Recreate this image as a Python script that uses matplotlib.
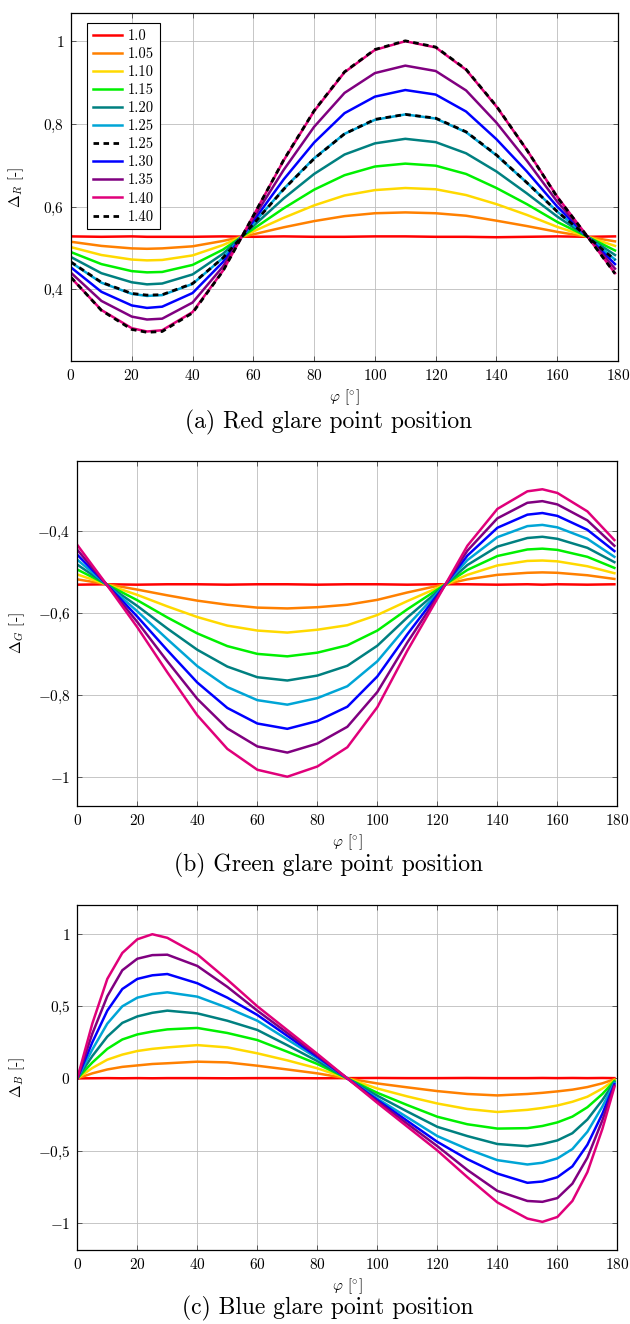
import matplotlib
matplotlib.use('Agg')
import matplotlib.pyplot as plt

plt.rcParams['font.family'] = 'serif'
plt.rcParams['font.serif'] = ['cmr10']
plt.rcParams['mathtext.fontset'] = 'cm'
plt.rcParams['axes.formatter.use_mathtext'] = True

# labels of the curves and their colours
labels = ['1.0', '1.05', '1.10', '1.15', '1.20', '1.25', '1.30', '1.35', '1.40']
colors = ['#ff0000', '#ff8000', '#ffd900', '#00f000', '#008080',
          '#00a5d6', '#0000ff', '#800080', '#e0007a']

# ---- (a) red glare point ----
phi_a = [0, 10, 20, 25, 30, 40, 50, 60, 70, 80, 90, 100, 110, 120, 130, 140, 150, 160, 170, 179]

a_100 = [0.528, 0.527, 0.528, 0.527, 0.527, 0.527, 0.528, 0.527, 0.528, 0.527, 0.527, 0.528, 0.528, 0.527, 0.527, 0.526, 0.527, 0.528, 0.527, 0.528]
a_105 = [0.515, 0.505, 0.499, 0.498, 0.499, 0.504, 0.517, 0.533, 0.550, 0.565, 0.577, 0.584, 0.586, 0.584, 0.578, 0.566, 0.553, 0.539, 0.527, 0.516]
a_110 = [0.502, 0.483, 0.472, 0.470, 0.471, 0.482, 0.507, 0.540, 0.573, 0.603, 0.627, 0.640, 0.645, 0.642, 0.628, 0.606, 0.580, 0.551, 0.527, 0.505]
a_115 = [0.490, 0.461, 0.444, 0.441, 0.442, 0.459, 0.496, 0.546, 0.596, 0.641, 0.676, 0.697, 0.704, 0.699, 0.679, 0.645, 0.606, 0.563, 0.527, 0.494]
a_120 = [0.478, 0.439, 0.417, 0.412, 0.414, 0.436, 0.486, 0.553, 0.620, 0.679, 0.726, 0.753, 0.764, 0.756, 0.729, 0.685, 0.632, 0.576, 0.527, 0.483]
a_125 = [0.465, 0.416, 0.389, 0.384, 0.386, 0.413, 0.476, 0.559, 0.643, 0.717, 0.776, 0.810, 0.823, 0.813, 0.780, 0.724, 0.658, 0.588, 0.527, 0.472]
a_130 = [0.453, 0.394, 0.361, 0.355, 0.358, 0.391, 0.466, 0.565, 0.666, 0.755, 0.826, 0.866, 0.882, 0.871, 0.830, 0.763, 0.685, 0.600, 0.527, 0.461]
a_135 = [0.440, 0.372, 0.334, 0.327, 0.329, 0.368, 0.455, 0.572, 0.689, 0.793, 0.875, 0.923, 0.941, 0.928, 0.881, 0.803, 0.711, 0.612, 0.527, 0.450]
a_140 = [0.428, 0.350, 0.306, 0.298, 0.301, 0.345, 0.445, 0.578, 0.712, 0.831, 0.925, 0.979, 1.000, 0.985, 0.931, 0.842, 0.737, 0.624, 0.527, 0.439]

# dashed (theory) curves
th_a_125 = [0.466, 0.417, 0.390, 0.386, 0.387, 0.414, 0.476, 0.558, 0.642, 0.716, 0.776, 0.811, 0.823, 0.814, 0.781, 0.725, 0.658, 0.588, 0.527, 0.471]
th_a_140 = [0.429, 0.349, 0.303, 0.296, 0.298, 0.343, 0.444, 0.578, 0.713, 0.832, 0.926, 0.980, 1.001, 0.986, 0.932, 0.843, 0.737, 0.623, 0.527, 0.438]

# ---- (b) green glare point ----
phi_b = [0, 10, 20, 30, 40, 50, 60, 70, 80, 90, 100, 110, 120, 130, 140, 150, 155, 160, 170, 179]

b_100 = [-0.531, -0.530, -0.531, -0.530, -0.530, -0.531, -0.530, -0.530, -0.531, -0.530, -0.530, -0.531, -0.530, -0.530, -0.531, -0.530, -0.531, -0.530, -0.531, -0.530]
b_105 = [-0.518, -0.530, -0.543, -0.557, -0.570, -0.580, -0.587, -0.589, -0.586, -0.580, -0.568, -0.550, -0.534, -0.518, -0.507, -0.502, -0.501, -0.502, -0.508, -0.517]
b_110 = [-0.506, -0.531, -0.556, -0.584, -0.610, -0.631, -0.643, -0.648, -0.641, -0.630, -0.605, -0.571, -0.539, -0.507, -0.484, -0.473, -0.472, -0.474, -0.486, -0.503]
b_115 = [-0.494, -0.531, -0.569, -0.611, -0.650, -0.681, -0.700, -0.706, -0.697, -0.679, -0.643, -0.591, -0.543, -0.495, -0.461, -0.445, -0.443, -0.446, -0.463, -0.490]
b_120 = [-0.482, -0.532, -0.583, -0.638, -0.690, -0.731, -0.757, -0.765, -0.753, -0.729, -0.680, -0.611, -0.548, -0.483, -0.438, -0.417, -0.414, -0.419, -0.441, -0.476]
b_125 = [-0.470, -0.532, -0.596, -0.664, -0.730, -0.781, -0.813, -0.824, -0.808, -0.779, -0.718, -0.631, -0.552, -0.471, -0.415, -0.388, -0.385, -0.391, -0.419, -0.463]
b_130 = [-0.458, -0.532, -0.609, -0.691, -0.770, -0.832, -0.870, -0.883, -0.864, -0.829, -0.755, -0.652, -0.556, -0.460, -0.392, -0.360, -0.356, -0.363, -0.397, -0.449]
b_135 = [-0.446, -0.533, -0.622, -0.718, -0.810, -0.882, -0.926, -0.941, -0.919, -0.878, -0.793, -0.672, -0.561, -0.448, -0.369, -0.331, -0.327, -0.335, -0.374, -0.436]
b_140 = [-0.434, -0.533, -0.635, -0.745, -0.850, -0.932, -0.983, -1.000, -0.975, -0.928, -0.830, -0.692, -0.565, -0.436, -0.346, -0.303, -0.298, -0.307, -0.352, -0.422]

# ---- (c) blue glare point ----
phi_c = [0, 5, 10, 15, 20, 25, 30, 40, 50, 60, 70, 80, 90, 100, 110, 120, 130, 140, 150, 155, 160, 165, 170, 175, 179]

c_100 = [0.0, 0.001, 0.002, 0.001, 0.002, 0.001, 0.002, 0.002, 0.001, 0.002, 0.002, 0.001, 0.002, 0.003, 0.002, 0.002, 0.003, 0.002, 0.002, 0.003, 0.002, 0.003, 0.002, 0.003, 0.002]
c_105 = [0, 0.035, 0.062, 0.08, 0.09, 0.10, 0.105, 0.116, 0.111, 0.088, 0.062, 0.035, 0.0, -0.035, -0.062, -0.088, -0.108, -0.118, -0.108, -0.100, -0.090, -0.078, -0.060, -0.034, -0.006]
c_110 = [0, 0.072, 0.13, 0.165, 0.19, 0.205, 0.215, 0.231, 0.215, 0.174, 0.125, 0.07, 0.0, -0.07, -0.125, -0.174, -0.212, -0.233, -0.218, -0.205, -0.188, -0.162, -0.127, -0.07, -0.012]
c_115 = [0, 0.11, 0.205, 0.27, 0.305, 0.325, 0.34, 0.35, 0.315, 0.266, 0.185, 0.10, 0.0, -0.10, -0.185, -0.266, -0.318, -0.348, -0.345, -0.330, -0.305, -0.265, -0.200, -0.108, -0.018]
c_120 = [0, 0.155, 0.29, 0.385, 0.43, 0.455, 0.47, 0.451, 0.40, 0.336, 0.23, 0.12, 0.0, -0.12, -0.23, -0.336, -0.40, -0.455, -0.47, -0.455, -0.43, -0.38, -0.285, -0.15, -0.025]
c_125 = [0, 0.20, 0.38, 0.50, 0.56, 0.585, 0.597, 0.567, 0.49, 0.40, 0.27, 0.14, 0.0, -0.14, -0.27, -0.40, -0.49, -0.567, -0.597, -0.585, -0.555, -0.49, -0.37, -0.195, -0.032]
c_130 = [0, 0.25, 0.47, 0.62, 0.69, 0.715, 0.724, 0.66, 0.56, 0.44, 0.295, 0.15, 0.0, -0.15, -0.295, -0.44, -0.56, -0.66, -0.724, -0.715, -0.685, -0.61, -0.46, -0.245, -0.04]
c_135 = [0, 0.31, 0.57, 0.75, 0.83, 0.855, 0.858, 0.78, 0.635, 0.47, 0.315, 0.16, 0.0, -0.16, -0.315, -0.47, -0.635, -0.78, -0.85, -0.856, -0.83, -0.73, -0.55, -0.29, -0.05]
c_140 = [0, 0.38, 0.69, 0.87, 0.965, 1.0, 0.975, 0.86, 0.685, 0.50, 0.335, 0.17, 0.0, -0.17, -0.335, -0.50, -0.685, -0.86, -0.972, -0.995, -0.961, -0.85, -0.65, -0.35, -0.06]

curves_a = [a_100, a_105, a_110, a_115, a_120, a_125, a_130, a_135, a_140]
curves_b = [b_100, b_105, b_110, b_115, b_120, b_125, b_130, b_135, b_140]
curves_c = [c_100, c_105, c_110, c_115, c_120, c_125, c_130, c_135, c_140]

fig = plt.figure(figsize=(6.3, 13.24), dpi=100)
ax_a = fig.add_axes([0.1127, 0.7273, 0.8683, 0.2631])
ax_b = fig.add_axes([0.1227, 0.3912, 0.8573, 0.2606])
ax_c = fig.add_axes([0.1227, 0.0559, 0.8573, 0.2606])

lw = 1.8
dash = (0, (2.0, 1.6))
for i in range(9):
    ax_a.plot(phi_a, curves_a[i], color=colors[i], lw=lw, label=labels[i])
    if labels[i] == '1.25':
        ax_a.plot(phi_a, th_a_125, color='black', lw=2.0, ls=dash, label='1.25', zorder=5)
    if labels[i] == '1.40':
        ax_a.plot(phi_a, th_a_140, color='black', lw=2.0, ls=dash, label='1.40', zorder=5)
    ax_b.plot(phi_b, curves_b[i], color=colors[i], lw=lw)
    ax_c.plot(phi_c, curves_c[i], color=colors[i], lw=lw)

leg = ax_a.legend(loc='upper left', bbox_to_anchor=(0.029, 0.97), borderaxespad=0,
                  fontsize=10.5, handlelength=2.0, handletextpad=0.4,
                  labelspacing=0.3, borderpad=0.4, fancybox=False, framealpha=1)
leg.get_frame().set_edgecolor('black')
leg.get_frame().set_linewidth(0.8)

ax_a.set_ylim(0.2265, 1.069)
ax_a.set_yticks([0.4, 0.6, 0.8, 1.0])
ax_a.set_yticklabels([r'$0{,}4$', r'$0{,}6$', r'$0{,}8$', r'$1$'])
ax_a.set_ylabel(r'$\Delta_R$ [-]')
ax_a.yaxis.set_label_coords(-0.082, 0.5)

ax_b.set_ylim(-1.0716, -0.229)
ax_b.set_yticks([-1.0, -0.8, -0.6, -0.4])
ax_b.set_yticklabels([r'$-1$', r'$-0{,}8$', r'$-0{,}6$', r'$-0{,}4$'])
ax_b.set_ylabel(r'$\Delta_G$ [-]')
ax_b.yaxis.set_label_coords(-0.093, 0.5)

ax_c.set_ylim(-1.19, 1.203)
ax_c.set_yticks([-1.0, -0.5, 0.0, 0.5, 1.0])
ax_c.set_yticklabels([r'$-1$', r'$-0{,}5$', r'$0$', r'$0{,}5$', r'$1$'])
ax_c.set_ylabel(r'$\Delta_B$ [-]')
ax_c.yaxis.set_label_coords(-0.093, 0.5)

captions = ['(a) Red glare point position', '(b) Green glare point position',
            '(c) Blue glare point position']
cap_y = [0.681, 0.346, 0.012]

for ax, cap, cy in zip([ax_a, ax_b, ax_c], captions, cap_y):
    ax.set_xlim(0, 180)
    ax.set_xticks(range(0, 181, 20))
    ax.set_xticklabels([r'$%d$' % v for v in range(0, 181, 20)])
    ax.set_xlabel(r'$\varphi$ [$^{\circ}$]', fontsize=11, labelpad=3)
    ax.yaxis.label.set_size(11)
    ax.grid(True, color='#bdbdbd', lw=0.6)
    ax.set_axisbelow(True)
    ax.tick_params(direction='in', top=True, right=True, length=3.5, width=0.6,
                   labelsize=11, color='#444444', pad=5)
    for s in ax.spines.values():
        s.set_linewidth(0.9)
    fig.text(0.521, cy, cap, ha='center', va='center', fontsize=17)

fig.savefig('out.png', dpi=100)
